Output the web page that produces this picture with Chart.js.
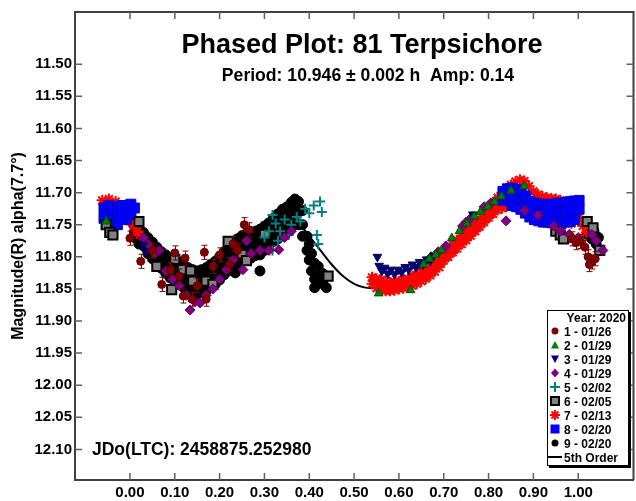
<!DOCTYPE html>
<html><head><meta charset="utf-8">
<script src="https://cdn.jsdelivr.net/npm/chart.js@4/dist/chart.umd.min.js"></script>
<style>html,body{margin:0;padding:0;background:#fff;overflow:hidden}#wrap{position:relative;width:642px;height:501px}</style>
</head><body><div id="wrap"><canvas id="c" width="642" height="501"></canvas></div>
<script>
const FONT = "'Liberation Sans', Arial, Helvetica, sans-serif";
const titleText = "Phased Plot: 81 Terpsichore";
const subtitleText = "Period: 10.946 \u00b1 0.002 h  Amp: 0.14";
const epochText = "JDo(LTC): 2458875.252980";
const yAxisTitle = "Magnitude(R) alpha(7.7\u00b0)";
const legendTitle = "Year: 2020";
const legendLabels = ["1 - 01/26","2 - 01/29","3 - 01/29","4 - 01/29","5 - 02/02","6 - 02/05","7 - 02/13","8 - 02/20","9 - 02/20","5th Order"];
const xTicks = [0.00,0.10,0.20,0.30,0.40,0.50,0.60,0.70,0.80,0.90,1.00];
const yTicks = [11.50,11.55,11.60,11.65,11.70,11.75,11.80,11.85,11.90,11.95,12.00,12.05,12.10];
const xRange = [-0.1226, 1.1233];
const yRange = [11.4186, 12.1477];

// 1 - 01/26 (dark red circles, with error bars)
const s1 = [[0.000,11.771],[0.024,11.807],[0.050,11.790],[0.071,11.843],[0.090,11.820],[0.100,11.794],[0.110,11.830],
 [0.119,11.861],[0.123,11.802],[0.138,11.866],[0.150,11.845],[0.166,11.793],[0.170,11.866],[0.185,11.815],[0.200,11.797],
 [0.222,11.812],[0.230,11.780],[0.240,11.790],[0.255,11.750],[0.266,11.758],[0.985,11.772],[0.995,11.778],[1.005,11.776],
 [1.015,11.785],[1.022,11.800],[1.030,11.808],[1.038,11.803],[1.025,11.812]];
const s1Err = 0.011;
// 2 - 01/29 (green triangles)
const s2 = [[-0.053,11.745],[0.555,11.857],[0.626,11.852],[0.655,11.812],[0.668,11.803],[0.682,11.797],[0.695,11.790],
 [0.718,11.771],[0.735,11.760],[0.752,11.748],[0.768,11.737],[0.782,11.730],[0.798,11.722],[0.813,11.714],[0.828,11.706],
 [0.850,11.697],[0.879,11.690]];
// 3 - 01/29 (navy down triangles)
const s3 = [[0.552,11.800],[0.556,11.814],[0.562,11.822],[0.568,11.817],[0.575,11.826],[0.582,11.820],[0.590,11.827],
 [0.598,11.820],[0.606,11.824],[0.614,11.816],[0.622,11.820],[0.630,11.812],[0.638,11.816],[0.646,11.808],[0.654,11.812],
 [0.662,11.804],[0.670,11.806],[0.678,11.798],[0.765,11.734],[0.030,11.782],[0.036,11.792]];
// 4 - 01/29 (purple diamonds)
const s4 = [[0.030,11.770],[0.040,11.780],[0.055,11.795],[0.065,11.790],[0.080,11.822],[0.095,11.835],[0.110,11.845],
 [0.125,11.860],[0.134,11.883],[0.145,11.870],[0.156,11.872],[0.170,11.860],[0.185,11.850],[0.200,11.835],[0.215,11.820],
 [0.230,11.805],[0.252,11.820],[0.260,11.775],[0.270,11.795],[0.290,11.790],[0.310,11.790],[0.332,11.789],[0.345,11.770],
 [0.360,11.760],[0.672,11.800],[0.688,11.792],[0.705,11.783],[0.742,11.752],[0.750,11.746],[0.760,11.740],[0.790,11.722],
 [0.805,11.716],[0.839,11.744],[0.880,11.728],[0.910,11.735],[0.945,11.752],[0.960,11.760],[0.980,11.765],[1.000,11.770],
 [1.030,11.765],[1.040,11.775],[1.055,11.790]];
// 5 - 02/02 (teal plus)
const s5 = [[0.300,11.770],[0.310,11.760],[0.318,11.735],[0.318,11.790],[0.325,11.748],[0.330,11.775],[0.335,11.760],
 [0.345,11.742],[0.354,11.766],[0.360,11.750],[0.372,11.738],[0.380,11.745],[0.391,11.725],[0.400,11.732],[0.410,11.720],
 [0.417,11.766],[0.420,11.780],[0.424,11.714],[0.428,11.730]];
// 6 - 02/05 (gray squares)
const s6 = [[-0.053,11.750],[-0.045,11.762],[-0.038,11.766],[0.020,11.745],[0.050,11.790],[0.060,11.815],[0.093,11.851],
 [0.100,11.804],[0.117,11.820],[0.135,11.822],[0.140,11.838],[0.170,11.838],[0.185,11.843],[0.219,11.776],[0.250,11.796],
 [0.260,11.806],[0.300,11.765],[0.442,11.830],[0.950,11.760],[0.960,11.766],[0.967,11.772],[1.020,11.745],[1.033,11.755],
 [1.048,11.790]];
// 7 - 02/13 (red asterisks)
const s7 = [
 [-0.062,11.712],[-0.055,11.718],[-0.047,11.710],[-0.040,11.720],[-0.032,11.714],[-0.020,11.730],[-0.010,11.738],
 [0.000,11.745],[0.005,11.740],[0.008,11.752],[0.015,11.760],[0.022,11.766],
 [0.540,11.832],[0.540,11.842],[0.545,11.837],[0.550,11.834],[0.550,11.849],[0.555,11.841],[0.560,11.836],[0.560,11.852],
 [0.565,11.845],[0.570,11.838],[0.570,11.853],[0.575,11.847],[0.580,11.840],[0.580,11.853],[0.585,11.846],[0.590,11.839],
 [0.590,11.852],[0.595,11.845],[0.600,11.838],[0.600,11.850],[0.605,11.843],[0.610,11.836],[0.610,11.849],[0.615,11.842],
 [0.620,11.834],[0.620,11.847],[0.625,11.840],[0.630,11.831],[0.630,11.845],[0.635,11.838],[0.640,11.828],[0.640,11.842],
 [0.645,11.834],[0.650,11.824],[0.650,11.838],[0.655,11.830],[0.660,11.820],[0.660,11.834],[0.665,11.826],[0.670,11.815],
 [0.670,11.829],[0.675,11.821],[0.680,11.808],[0.680,11.823],[0.685,11.814],[0.690,11.801],[0.690,11.816],[0.695,11.807],
 [0.700,11.794],[0.700,11.806],[0.705,11.800],[0.710,11.788],[0.710,11.800],[0.715,11.794],[0.720,11.781],[0.720,11.793],
 [0.725,11.787],[0.730,11.774],[0.730,11.787],[0.735,11.780],[0.740,11.767],[0.740,11.780],[0.745,11.773],[0.750,11.761],
 [0.750,11.774],[0.755,11.767],[0.760,11.755],[0.760,11.767],[0.765,11.760],[0.770,11.748],[0.770,11.760],[0.775,11.754],
 [0.780,11.741],[0.780,11.753],[0.785,11.747],[0.790,11.734],[0.790,11.746],[0.795,11.740],[0.800,11.727],[0.800,11.739],
 [0.805,11.733],[0.810,11.718],[0.810,11.733],[0.815,11.725],[0.820,11.708],[0.820,11.727],[0.825,11.716],
 [0.830,11.700],[0.830,11.724],[0.840,11.693],[0.840,11.722],[0.850,11.688],[0.850,11.720],[0.860,11.683],[0.860,11.718],
 [0.870,11.680],[0.870,11.716],[0.880,11.682],[0.890,11.690],[0.900,11.698],[0.910,11.703],[0.920,11.706],[0.930,11.708],
 [0.940,11.709],[0.950,11.710],[0.960,11.712],
 [0.905,11.728],[0.915,11.716],[0.935,11.742],[0.952,11.745],[0.965,11.735],[0.975,11.722],[0.985,11.748],[1.000,11.740],
 [1.010,11.752],[1.018,11.762]];
// 8 - 02/20 (blue squares)
const s8 = [
 [-0.058,11.724],[-0.058,11.740],[-0.048,11.720],[-0.048,11.736],[-0.048,11.748],[-0.038,11.726],[-0.038,11.742],
 [-0.028,11.722],[-0.028,11.738],[-0.028,11.750],[-0.018,11.720],[-0.018,11.736],[-0.008,11.726],[-0.008,11.742],
 [0.002,11.718],[0.002,11.734],[0.010,11.724],
 [0.832,11.698],[0.832,11.712],[0.842,11.694],[0.842,11.710],[0.852,11.693],[0.852,11.708],[0.852,11.720],
 [0.862,11.695],[0.862,11.710],[0.862,11.722],[0.872,11.700],[0.872,11.714],[0.872,11.726],[0.882,11.705],[0.882,11.720],
 [0.882,11.732],[0.892,11.714],[0.892,11.726],[0.892,11.738],[0.902,11.716],[0.902,11.730],[0.902,11.742],[0.912,11.718],
 [0.912,11.732],[0.912,11.744],[0.922,11.718],[0.922,11.733],[0.922,11.746],[0.932,11.719],[0.932,11.734],[0.932,11.746],
 [0.942,11.718],[0.942,11.733],[0.942,11.747],[0.952,11.717],[0.952,11.732],[0.952,11.746],[0.962,11.716],[0.962,11.730],
 [0.962,11.748],[0.972,11.715],[0.972,11.730],[0.972,11.746],[0.982,11.714],[0.982,11.728],[0.982,11.745],[0.992,11.713],
 [0.992,11.727],[0.992,11.742],[1.002,11.712],[1.002,11.726]];
// 9 - 02/20 (black circles)
const s9 = [
 [0.010,11.752],[0.010,11.762],[0.010,11.770],[0.020,11.757],[0.020,11.770],[0.020,11.780],[0.030,11.762],[0.030,11.775],
 [0.030,11.783],[0.040,11.770],[0.040,11.783],[0.040,11.795],[0.050,11.777],[0.050,11.790],[0.050,11.803],[0.060,11.785],
 [0.060,11.797],[0.060,11.810],[0.070,11.792],[0.070,11.805],[0.070,11.818],[0.080,11.797],[0.080,11.812],[0.080,11.826],
 [0.090,11.802],[0.090,11.818],[0.090,11.833],[0.100,11.806],[0.100,11.822],[0.100,11.838],[0.110,11.808],[0.110,11.826],
 [0.110,11.843],[0.120,11.813],[0.120,11.830],[0.120,11.848],[0.130,11.817],[0.130,11.834],[0.130,11.853],[0.140,11.820],
 [0.140,11.838],[0.140,11.856],[0.150,11.822],[0.150,11.840],[0.150,11.858],[0.160,11.820],[0.160,11.839],[0.160,11.856],
 [0.170,11.817],[0.170,11.836],[0.170,11.853],[0.180,11.812],[0.180,11.830],[0.180,11.848],[0.190,11.807],[0.190,11.825],
 [0.190,11.843],[0.200,11.800],[0.200,11.818],[0.200,11.836],[0.210,11.792],[0.210,11.810],[0.210,11.828],[0.220,11.785],
 [0.220,11.803],[0.220,11.822],[0.230,11.777],[0.230,11.796],[0.230,11.818],[0.235,11.825],[0.240,11.772],[0.240,11.790],
 [0.240,11.812],[0.250,11.767],[0.250,11.786],[0.250,11.808],[0.260,11.764],[0.260,11.783],[0.260,11.804],[0.270,11.762],
 [0.270,11.780],[0.270,11.802],[0.280,11.760],[0.280,11.777],[0.280,11.798],[0.290,11.757],[0.290,11.774],[0.290,11.797],
 [0.290,11.822],[0.300,11.752],[0.300,11.768],[0.300,11.790],[0.310,11.747],[0.310,11.763],[0.310,11.783],[0.320,11.740],
 [0.320,11.757],[0.320,11.776],[0.330,11.733],[0.330,11.750],[0.330,11.772],[0.340,11.726],[0.340,11.744],[0.340,11.765],
 [0.350,11.722],[0.350,11.738],[0.350,11.762],[0.360,11.715],[0.360,11.732],[0.360,11.755],[0.368,11.710],[0.368,11.726],
 [0.368,11.748],[0.376,11.714],[0.376,11.730],[0.376,11.750],[0.385,11.728],[0.385,11.750],[0.385,11.768],[0.395,11.768],
 [0.395,11.790],[0.400,11.780],[0.400,11.805],[0.405,11.795],[0.405,11.822],[0.412,11.810],[0.412,11.835],[0.412,11.848],
 [0.420,11.815],[0.420,11.832],[0.430,11.826],[0.430,11.842],[0.438,11.830],[0.438,11.848],
 [0.015,11.760],[0.015,11.772],[0.025,11.766],[0.025,11.779],[0.035,11.772],[0.035,11.786],[0.045,11.780],[0.045,11.796],
 [0.055,11.787],[0.055,11.803],[0.065,11.795],[0.065,11.811],[0.075,11.801],[0.075,11.818],[0.085,11.807],[0.085,11.825],
 [0.095,11.812],[0.095,11.830],[0.105,11.815],[0.105,11.834],[0.115,11.819],[0.115,11.839],[0.125,11.823],[0.125,11.843],
 [0.135,11.827],[0.135,11.847],[0.145,11.830],[0.145,11.849],[0.155,11.830],[0.155,11.850],[0.165,11.828],[0.165,11.847],
 [0.175,11.824],[0.175,11.843],[0.185,11.818],[0.185,11.838],[0.195,11.812],[0.195,11.832],[0.205,11.805],[0.205,11.825],
 [0.215,11.797],[0.215,11.818],[0.225,11.790],[0.225,11.812],[0.235,11.784],[0.235,11.806],[0.245,11.778],[0.245,11.800],
 [0.255,11.775],[0.255,11.797],[0.265,11.772],[0.265,11.794],[0.275,11.770],[0.275,11.790],[0.285,11.767],[0.285,11.788],
 [0.295,11.762],[0.295,11.783],[0.305,11.756],[0.305,11.777],[0.315,11.750],[0.315,11.770],[0.325,11.744],[0.325,11.765],
 [0.335,11.737],[0.335,11.759],[0.345,11.731],[0.345,11.754],[0.355,11.726],[0.355,11.748],[0.365,11.720],[0.365,11.740],
 [1.020,11.765],[1.030,11.772],[1.035,11.760],[1.040,11.780],[1.045,11.770]];
// 5th order fit
const fitPhase = [0.000,0.025,0.050,0.075,0.100,0.125,0.150,0.175,0.200,0.225,0.250,0.275,0.300,0.325,0.350,0.375,0.400,
 0.425,0.450,0.475,0.500,0.525,0.550,0.575,0.600,0.625,0.650,0.675,0.700,0.725,0.750,0.775,0.800,0.825,0.850,0.875,0.900,
 0.925,0.950,0.975,1.000];
const fitMag = [11.748,11.765,11.785,11.803,11.818,11.830,11.836,11.834,11.822,11.806,11.790,11.776,11.764,11.752,11.745,
 11.748,11.768,11.790,11.812,11.830,11.842,11.848,11.848,11.845,11.838,11.828,11.816,11.802,11.788,11.773,11.757,11.742,
 11.727,11.714,11.704,11.700,11.703,11.710,11.720,11.733,11.748];
// drawing rank (1 = on top)
const drawRank = [1, 2, 3, 4, 5, 6, 8, 7, 9];

const pts = a => a.map(p => ({x:p[0], y:p[1]}));

const series = [
 {label:legendLabels[0], data:pts(s1), pointStyle:'circle', pointRadius:4, backgroundColor:'#800000', borderColor:'#600000', pointBorderWidth:1, errY:s1Err, errColor:'#800000'},
 {label:legendLabels[1], data:pts(s2), pointStyle:'triangle', pointRadius:5, backgroundColor:'#008000', borderColor:'#005000', pointBorderWidth:1},
 {label:legendLabels[2], data:pts(s3), pointStyle:'triangle', pointRotation:180, pointRadius:5, backgroundColor:'#000080', borderColor:'#000050', pointBorderWidth:1},
 {label:legendLabels[3], data:pts(s4), pointStyle:'rectRot', pointRadius:5, backgroundColor:'#800080', borderColor:'#600060', pointBorderWidth:1},
 {label:legendLabels[4], data:pts(s5), pointStyle:'cross', pointRadius:5, backgroundColor:'#008080', borderColor:'#008080', pointBorderWidth:2},
 {label:legendLabels[5], data:pts(s6), pointStyle:'rect', pointRadius:6.5, backgroundColor:'#808080', borderColor:'#000000', pointBorderWidth:2},
 {label:legendLabels[6], data:pts(s7), pointStyle:'star', pointRadius:5.5, backgroundColor:'#ff0000', borderColor:'#ff0000', pointBorderWidth:2},
 {label:legendLabels[7], data:pts(s8), pointStyle:'rect', pointRadius:7, backgroundColor:'#0000ff', borderColor:'#0000c8', pointBorderWidth:1},
 {label:legendLabels[8], data:pts(s9), pointStyle:'circle', pointRadius:5, backgroundColor:'#000000', borderColor:'#000000', pointBorderWidth:1}
];
const datasets = [{
  label: legendLabels[9], type:'line', data: fitPhase.map((p,i)=>({x:p, y:fitMag[i]})),
  borderColor:'#000', borderWidth:2, pointRadius:0, fill:false, tension:0.3, order:100, showLine:true
}];
series.forEach((s,i)=>{ s.order = drawRank[i]; s.showLine = false; s.pointHoverRadius = s.pointRadius; datasets.push(s); });

function drawMarker(ctx, kind, x, y, fill, stroke) {
  ctx.save(); ctx.fillStyle = fill; ctx.strokeStyle = stroke; ctx.lineWidth = 1;
  ctx.beginPath();
  if (kind === 'circle') { ctx.arc(x, y, 3.5, 0, Math.PI*2); ctx.fill(); }
  else if (kind === 'tri') { ctx.moveTo(x, y-4); ctx.lineTo(x+4, y+3.5); ctx.lineTo(x-4, y+3.5); ctx.closePath(); ctx.fill(); }
  else if (kind === 'dtri') { ctx.moveTo(x, y+4); ctx.lineTo(x+4, y-3.5); ctx.lineTo(x-4, y-3.5); ctx.closePath(); ctx.fill(); }
  else if (kind === 'diamond') { ctx.moveTo(x, y-4.5); ctx.lineTo(x+4, y); ctx.lineTo(x, y+4.5); ctx.lineTo(x-4, y); ctx.closePath(); ctx.fill(); }
  else if (kind === 'plus') { ctx.lineWidth = 2; ctx.moveTo(x-5, y); ctx.lineTo(x+5, y); ctx.moveTo(x, y-5); ctx.lineTo(x, y+5); ctx.stroke(); }
  else if (kind === 'gsq') { ctx.fillStyle = '#000'; ctx.fillRect(x-5, y-5, 10, 10); ctx.fillStyle = fill; ctx.fillRect(x-3, y-3, 6, 6); }
  else if (kind === 'star') { ctx.lineWidth = 2; for (let k=0;k<4;k++){ const a=k*Math.PI/4; ctx.moveTo(x-5*Math.cos(a), y-5*Math.sin(a)); ctx.lineTo(x+5*Math.cos(a), y+5*Math.sin(a)); } ctx.stroke(); }
  else if (kind === 'bsq') { ctx.fillRect(x-4.5, y-4.5, 9, 9); }
  ctx.restore();
}

const decor = {
  id:'decor',
  afterDatasetDraw(chart, args) {
    const ds = chart.data.datasets[args.index];
    if (!ds.errY) return;
    const {ctx, scales:{x, y}} = chart;
    ctx.save(); ctx.strokeStyle = ds.errColor; ctx.lineWidth = 1;
    ds.data.forEach(p => {
      const px = Math.round(x.getPixelForValue(p.x)) + 0.5;
      const y1 = y.getPixelForValue(p.y - ds.errY), y2 = y.getPixelForValue(p.y + ds.errY);
      ctx.beginPath();
      ctx.moveTo(px, y1); ctx.lineTo(px, y2);
      ctx.moveTo(px-3, y1); ctx.lineTo(px+3, y1);
      ctx.moveTo(px-3, y2); ctx.lineTo(px+3, y2);
      ctx.stroke();
    });
    ctx.restore();
  },
  afterDraw(chart) {
    const {ctx, chartArea:a, scales:{x, y}} = chart;
    ctx.save();
    ctx.strokeStyle = '#404040'; ctx.lineWidth = 2;
    ctx.beginPath(); ctx.moveTo(a.left-1, a.top); ctx.lineTo(a.right, a.top); ctx.lineTo(a.right, a.bottom); ctx.stroke();
    ctx.strokeStyle = '#606060'; ctx.lineWidth = 1.5;
    ctx.beginPath();
    xTicks.forEach(v => { const px = x.getPixelForValue(v);
      ctx.moveTo(px, a.bottom); ctx.lineTo(px, a.bottom-7);
      ctx.moveTo(px, a.top); ctx.lineTo(px, a.top+7); });
    yTicks.forEach(v => { const py = y.getPixelForValue(v);
      ctx.moveTo(a.left, py); ctx.lineTo(a.left+7, py);
      ctx.moveTo(a.right, py); ctx.lineTo(a.right-7, py); });
    ctx.stroke();
    ctx.fillStyle = '#000';
    ctx.textAlign = 'center'; ctx.textBaseline = 'alphabetic';
    ctx.font = 'bold 27px ' + FONT; ctx.fillText(titleText, 362, 53);
    ctx.font = 'bold 17.6px ' + FONT; ctx.fillText(subtitleText, 368, 81);
    ctx.textAlign = 'left'; ctx.font = 'bold 17.5px ' + FONT; ctx.fillText(epochText, 92, 455);
    ctx.save(); ctx.translate(23, (a.top + a.bottom)/2); ctx.rotate(-Math.PI/2);
    ctx.textAlign = 'center'; ctx.font = 'bold 16px ' + FONT; ctx.fillText(yAxisTitle, 0, 0); ctx.restore();
    const L = 547, T = 310, W = 82, H = 156;
    ctx.fillStyle = '#000'; ctx.fillRect(L+2, T+2, W, H);
    ctx.fillStyle = '#fff'; ctx.fillRect(L, T, W, H);
    ctx.strokeStyle = '#000'; ctx.lineWidth = 1; ctx.strokeRect(L+0.5, T+0.5, W-1, H-1);
    ctx.fillStyle = '#000'; ctx.font = 'bold 12px ' + FONT; ctx.textAlign = 'right';
    ctx.fillText(legendTitle, 626, 321.5);
    const kinds = [['circle','#800000'],['tri','#008000'],['dtri','#000080'],['diamond','#800080'],['plus','#008080'],['gsq','#808080'],['star','#ff0000'],['bsq','#0000ff'],['circle','#000000']];
    ctx.textAlign = 'left';
    legendLabels.forEach((lab, i) => {
      const cy = 331 + 14*i;
      if (i < 9) drawMarker(ctx, kinds[i][0], 555, cy, kinds[i][1], kinds[i][1]);
      else { ctx.strokeStyle = '#000'; ctx.lineWidth = 2; ctx.beginPath(); ctx.moveTo(548, cy); ctx.lineTo(562, cy); ctx.stroke(); }
      ctx.fillStyle = '#000'; ctx.fillText(lab, 564, cy + 4.5);
    });
    ctx.restore();
  }
};

new Chart(document.getElementById('c'), {
  type: 'scatter',
  data: { datasets },
  options: {
    responsive:false, animation:false, events:[], devicePixelRatio:1,
    layout:{padding:{top:9, right:1, left:0, bottom:0}},
    plugins:{legend:{display:false}, title:{display:false}, tooltip:{enabled:false}},
    scales:{
      x:{ type:'linear', position:'bottom', min:xRange[0], max:xRange[1],
        afterFit(s){ s.height = 21; },
        afterBuildTicks(s){ s.ticks = xTicks.map(v => ({value:v})); },
        ticks:{ callback:v => Number(v).toFixed(2), font:{family:FONT, size:15, weight:'bold'}, color:'#000', padding:4, maxRotation:0, autoSkip:false },
        grid:{ display:false, drawTicks:false },
        border:{ display:true, color:'#404040', width:2 } },
      y:{ type:'linear', position:'left', reverse:true, min:yRange[0], max:yRange[1],
        afterFit(s){ s.width = 75; },
        afterBuildTicks(s){ s.ticks = yTicks.map(v => ({value:v})); },
        ticks:{ callback:v => Number(v).toFixed(2), font:{family:FONT, size:15, weight:'bold'}, color:'#000', padding:3, autoSkip:false },
        grid:{ display:false, drawTicks:false },
        border:{ display:true, color:'#404040', width:2 } }
    }
  },
  plugins:[decor]
});
</script></body></html>
